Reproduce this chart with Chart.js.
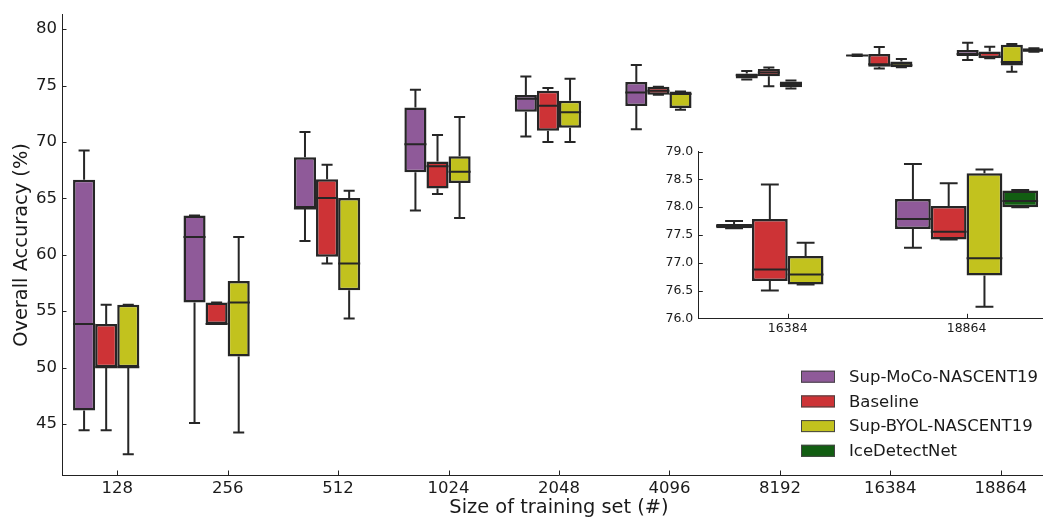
<!DOCTYPE html>
<html lang="en">
<head>
<meta charset="UTF-8">
<title>Overall Accuracy vs training set size</title>
<script src="https://cdn.jsdelivr.net/npm/chart.js"></script>
<style>
    body { margin: 0; background: #fff; }
    #wrap { position: relative; width: 1043px; height: 518px; overflow: hidden; }
    #mainChart { position: absolute; left: 0; top: 0; }
    #insetChart { position: absolute; left: 640px; top: 130px; }
</style>
</head>
<body>
<div id="wrap">
    <canvas id="mainChart" width="1056" height="518"></canvas>
    <canvas id="insetChart" width="416" height="206"></canvas>
</div>

<script>
// categories (training set sizes)
const sizes = ['128', '256', '512', '1024', '2048', '4096', '8192', '16384', '18864'];
const yTicks = [45, 50, 55, 60, 65, 70, 75, 80];
const insetTicks = [76, 76.5, 77, 77.5, 78, 78.5, 79];

const seriesNames = ['Sup-MoCo-NASCENT19', 'Baseline', 'Sup-BYOL-NASCENT19', 'IceDetectNet'];
const seriesColors = ['#8f5a99', '#cd3336', '#c2c21e', '#125e12'];

// box plot stats per series: whisker low, Q1, median, Q3, whisker high
const mocoLow  = [44.44, 45.09, 61.21, 63.91, 70.47, 71.12, 75.53, 77.62, 77.27];
const mocoQ1   = [46.18, 55.76, 64.09, 67.32, 72.68, 73.18, 75.62, 77.62, 77.61];
const mocoMed  = [53.85, 61.56, 64.09, 69.79, 73.82, 74.38, 75.91, 77.66, 77.79];
const mocoQ3   = [66.65, 63.47, 68.65, 73.06, 74.15, 75.32, 76.06, 77.70, 78.15];
const mocoHigh = [69.24, 63.47, 70.88, 74.62, 75.79, 76.82, 76.29, 77.75, 78.78];

const baseLow  = [44.44, 53.85, 59.21, 65.38, 70.00, 74.18, 74.94, 76.50, 77.42];
const baseQ1   = [50.03, 53.85, 59.82, 65.88, 71.00, 74.18, 75.82, 76.67, 77.42];
const baseMed  = [50.03, 53.85, 65.03, 67.85, 73.21, 74.53, 76.15, 76.88, 77.56];
const baseQ3   = [53.85, 55.76, 66.68, 68.26, 74.53, 74.88, 76.47, 77.79, 78.02];
const baseHigh = [55.56, 55.76, 67.97, 70.62, 74.79, 74.88, 76.59, 78.41, 78.43];

const byolLow  = [42.32, 44.24, 54.35, 63.26, 70.00, 72.85, 74.73, 76.61, 76.21];
const byolQ1   = [50.03, 50.97, 56.85, 66.35, 71.26, 73.00, 74.85, 76.61, 76.77];
const byolMed  = [50.03, 55.76, 59.21, 67.35, 72.62, 74.24, 75.12, 76.79, 77.08];
const byolQ3   = [55.56, 57.68, 65.03, 68.73, 73.65, 74.47, 75.35, 77.12, 78.61];
const byolHigh = [55.56, 61.56, 65.68, 72.21, 75.59, 74.47, 75.44, 77.36, 78.68];

const iceLow  = [null, null, null, null, null, null, null, null, 78.00];
const iceQ1   = [null, null, null, null, null, null, null, null, 78.00];
const iceMed  = [null, null, null, null, null, null, null, null, 78.11];
const iceQ3   = [null, null, null, null, null, null, null, null, 78.30];
const iceHigh = [null, null, null, null, null, null, null, null, 78.31];

const lows  = [mocoLow, baseLow, byolLow, iceLow];
const q1s   = [mocoQ1, baseQ1, byolQ1, iceQ1];
const meds  = [mocoMed, baseMed, byolMed, iceMed];
const q3s   = [mocoQ3, baseQ3, byolQ3, iceQ3];
const highs = [mocoHigh, baseHigh, byolHigh, iceHigh];

const edge = '#262626';
Chart.defaults.font.family = 'DejaVu Sans';
Chart.defaults.color = '#1a1a1a';

// boxes are floating bars [Q1, Q3]; whiskers/medians kept on the dataset
function makeDatasets(from) {
    return seriesNames.map((name, k) => ({
        label: name,
        data: q1s[k].slice(from).map((v, j) => v == null ? null : [v, q3s[k][from + j]]),
        lo: lows[k].slice(from),
        med: meds[k].slice(from),
        hi: highs[k].slice(from),
        backgroundColor: seriesColors[k],
        borderColor: edge,
        borderWidth: 2.5,
        borderSkipped: false,
        categoryPercentage: 0.8,
        barPercentage: 1.0
    }));
}

// whiskers, caps and median lines
const boxWhiskers = {
    id: 'boxWhiskers',
    afterDatasetsDraw(chart) {
        const ctx = chart.ctx, y = chart.scales.y;
        ctx.save();
        ctx.strokeStyle = edge;
        ctx.lineWidth = 2;
        chart.data.datasets.forEach((ds, i) => {
            chart.getDatasetMeta(i).data.forEach((bar, j) => {
                if (ds.data[j] == null) return;
                const x = bar.x, half = bar.width / 2;
                const yLo = y.getPixelForValue(ds.lo[j]);
                const yQ1 = y.getPixelForValue(ds.data[j][0]);
                const yQ3 = y.getPixelForValue(ds.data[j][1]);
                const yHi = y.getPixelForValue(ds.hi[j]);
                const yMed = y.getPixelForValue(ds.med[j]);
                ctx.beginPath();
                ctx.moveTo(x, yHi); ctx.lineTo(x, yQ3);
                ctx.moveTo(x, yQ1); ctx.lineTo(x, yLo);
                ctx.moveTo(x - half / 2, yHi); ctx.lineTo(x + half / 2, yHi);
                ctx.moveTo(x - half / 2, yLo); ctx.lineTo(x + half / 2, yLo);
                ctx.moveTo(x - half, yMed); ctx.lineTo(x + half, yMed);
                ctx.stroke();
            });
        });
        ctx.restore();
    }
};

// tick marks pointing into the plot, like the original
const inwardTicks = {
    id: 'inwardTicks',
    afterDraw(chart) {
        const ctx = chart.ctx, a = chart.chartArea;
        const xs = chart.scales.x, ys = chart.scales.y;
        ctx.save();
        ctx.strokeStyle = '#222';
        ctx.lineWidth = 1;
        ctx.beginPath();
        xs.ticks.forEach((t, i) => {
            const px = Math.round(xs.getPixelForTick(i)) + 0.5;
            ctx.moveTo(px, a.bottom); ctx.lineTo(px, a.bottom - 4.5);
        });
        ys.ticks.forEach((t, i) => {
            const py = Math.round(ys.getPixelForTick(i)) + 0.5;
            ctx.moveTo(a.left, py); ctx.lineTo(a.left + 4.5, py);
        });
        ctx.stroke();
        ctx.restore();
    }
};

// legend in the lower right of the main axes
const boxLegend = {
    id: 'boxLegend',
    afterDraw(chart) {
        const ctx = chart.ctx;
        ctx.save();
        ctx.font = '16.5px "DejaVu Sans"';
        ctx.textBaseline = 'middle';
        chart.data.datasets.forEach((ds, i) => {
            const cy = 376.7 + i * 24.7;
            ctx.fillStyle = ds.backgroundColor;
            ctx.fillRect(801, cy - 6, 34, 12);
            ctx.strokeStyle = '#444';
            ctx.lineWidth = 1;
            ctx.strokeRect(801.5, cy - 5.5, 33, 11);
            ctx.fillStyle = '#1a1a1a';
            ctx.fillText(ds.label, 849, cy + 1);
        });
        ctx.restore();
    }
};

new Chart(document.getElementById('mainChart'), {
    type: 'bar',
    data: { labels: sizes, datasets: makeDatasets(0) },
    options: {
        responsive: false,
        animation: false,
        layout: { padding: { top: 13, right: 0, left: 0, bottom: 0 } },
        plugins: { legend: { display: false }, tooltip: { enabled: false } },
        scales: {
            x: {
                grid: { display: false, drawTicks: false },
                border: { display: true, color: '#222', width: 1 },
                ticks: { font: { size: 16.5 }, padding: 4, maxRotation: 0 },
                title: { display: true, text: 'Size of training set (#)', font: { size: 19.4 }, padding: { top: 0, bottom: -2 } },
                afterFit(scale) { scale.height = 43; }
            },
            y: {
                min: 40.47,
                max: 81.26,
                grid: { display: false, drawTicks: false },
                border: { display: true, color: '#222', width: 1 },
                ticks: { font: { size: 16.5 }, padding: 5 },
                afterBuildTicks(scale) { scale.ticks = yTicks.map(v => ({ value: v })); },
                title: { display: true, text: 'Overall Accuracy (%)', font: { size: 19.4 }, padding: { top: 10, bottom: 0 } },
                afterFit(scale) { scale.width = 62; }
            }
        }
    },
    plugins: [boxWhiskers, inwardTicks, boxLegend]
});

// zoomed inset for the two largest training sets
new Chart(document.getElementById('insetChart'), {
    type: 'bar',
    data: { labels: sizes.slice(7), datasets: makeDatasets(7) },
    options: {
        responsive: false,
        animation: false,
        layout: { padding: { top: 21.7, right: 0, left: 0, bottom: 0 } },
        plugins: { legend: { display: false }, tooltip: { enabled: false } },
        scales: {
            x: {
                grid: { display: false, drawTicks: false },
                border: { display: true, color: '#222', width: 1 },
                ticks: { font: { size: 12.5 }, padding: 3, maxRotation: 0 },
                afterFit(scale) { scale.height = 17.7; }
            },
            y: {
                min: 76,
                max: 79,
                grid: { display: false, drawTicks: false },
                border: { display: true, color: '#222', width: 1 },
                ticks: { font: { size: 12.5 }, padding: 5, callback: v => v.toFixed(1) },
                afterBuildTicks(scale) { scale.ticks = insetTicks.map(v => ({ value: v })); },
                afterFit(scale) { scale.width = 58.3; }
            }
        }
    },
    plugins: [boxWhiskers, inwardTicks]
});
</script>
</body>
</html>
